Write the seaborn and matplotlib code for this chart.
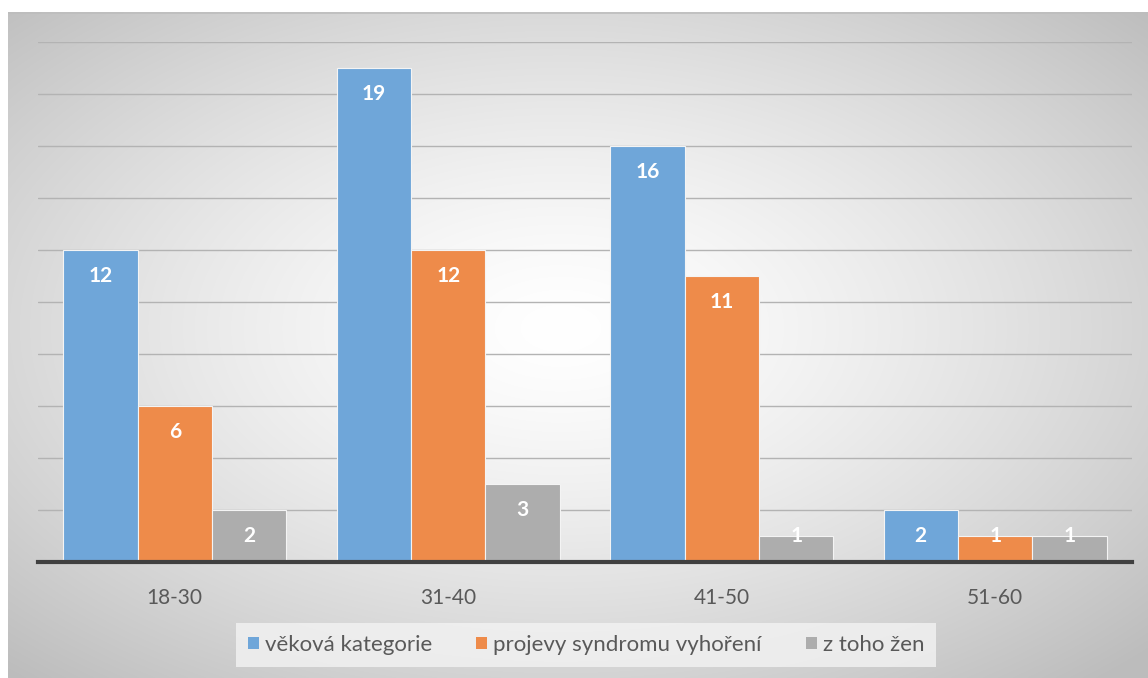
import numpy as np
import pandas as pd
import matplotlib
matplotlib.use("Agg")
import matplotlib.pyplot as plt
from matplotlib.patches import Patch
import seaborn as sns

# --- data ---
categories = ["18-30", "31-40", "41-50", "51-60"]
series_names = ["věková kategorie", "projevy syndromu vyhoření", "z toho žen"]
vekova_kategorie = [12, 19, 16, 2]
projevy_syndromu = [6, 12, 11, 1]
z_toho_zen = [2, 3, 1, 1]
colors = ["#6FA6D9", "#EE8B4A", "#ADADAD"]

series_values = [vekova_kategorie, projevy_syndromu, z_toho_zen]
df = pd.DataFrame(
    [(c, s, v) for s, vals in zip(series_names, series_values) for c, v in zip(categories, vals)],
    columns=["kategorie", "serie", "hodnota"],
)

sns.set_theme(style="white")
plt.rcParams["font.family"] = ["Lato", "DejaVu Sans"]

W, H = 1148, 678
fig = plt.figure(figsize=(W / 100, H / 100), dpi=100, facecolor="white")

# radial gradient background of the chart area
bg = fig.add_axes([8 / W, 0, (W - 8) / W, (H - 12) / H], zorder=-10)
ny, nx = 400, 700
yy, xx = np.mgrid[-1:1:ny * 1j, -1:1:nx * 1j]
r = np.sqrt((xx + 0.03) ** 2 + (yy + 0.05) ** 2) / np.sqrt(2)
shade = 1 - 0.26 * np.clip(r, 0, 1) ** 1.4
bg.imshow(np.dstack([shade] * 3), aspect="auto", extent=[0, 1, 0, 1], interpolation="bilinear")
bg.plot([0, 1], [0.999, 0.999], color="#bdbdbd", lw=1.2, transform=bg.transAxes)
bg.set_axis_off()

ax = fig.add_axes([38 / W, (H - 562) / H, 1094 / W, 520 / H])
ax.patch.set_alpha(0)

sns.barplot(
    data=df, x="kategorie", y="hodnota", hue="serie", order=categories,
    hue_order=series_names, palette=colors, width=0.817, saturation=1,
    edgecolor="#f4f4f4", linewidth=0.8, ax=ax, legend=False, zorder=3,
)

ax.set_ylim(0, 20)
ax.set_xlim(-0.5, 3.5)
ax.set_yticks(np.arange(2, 21, 2))
ax.yaxis.grid(True, color="#b3b3b3", lw=1)
ax.set_axisbelow(True)
ax.tick_params(axis="y", left=False, labelleft=False)
ax.tick_params(axis="x", bottom=False, labelsize=15, colors="#595959", pad=13)
ax.set_xlabel("")
ax.set_ylabel("")
for s in ["top", "right", "left"]:
    ax.spines[s].set_visible(False)
ax.spines["bottom"].set_color("#404040")
ax.spines["bottom"].set_linewidth(3)
ax.spines["bottom"].set_zorder(5)

# value labels inside the bars
for container, vals in zip(ax.containers, series_values):
    for bar, v in zip(container, vals):
        xc = bar.get_x() + bar.get_width() / 2
        ax.text(xc, max(v - 1, 1), f"{v}", ha="center", va="center",
                color="white", fontsize=15, fontweight="bold", zorder=6)

handles = [Patch(facecolor=c, edgecolor="none") for c in colors]
leg = fig.legend(
    handles, series_names, loc="center", bbox_to_anchor=(586 / W, (H - 645) / H),
    ncol=3, frameon=True, fontsize=16, handlelength=0.5, handleheight=0.5,
    handletextpad=0.25, columnspacing=2.0, borderpad=0.55, borderaxespad=0,
    fancybox=False,
)
leg.get_frame().set_facecolor("#f3f3f3")
leg.get_frame().set_edgecolor("none")
for t in leg.get_texts():
    t.set_color("#595959")

fig.savefig("out.png", dpi=100, facecolor="white")
